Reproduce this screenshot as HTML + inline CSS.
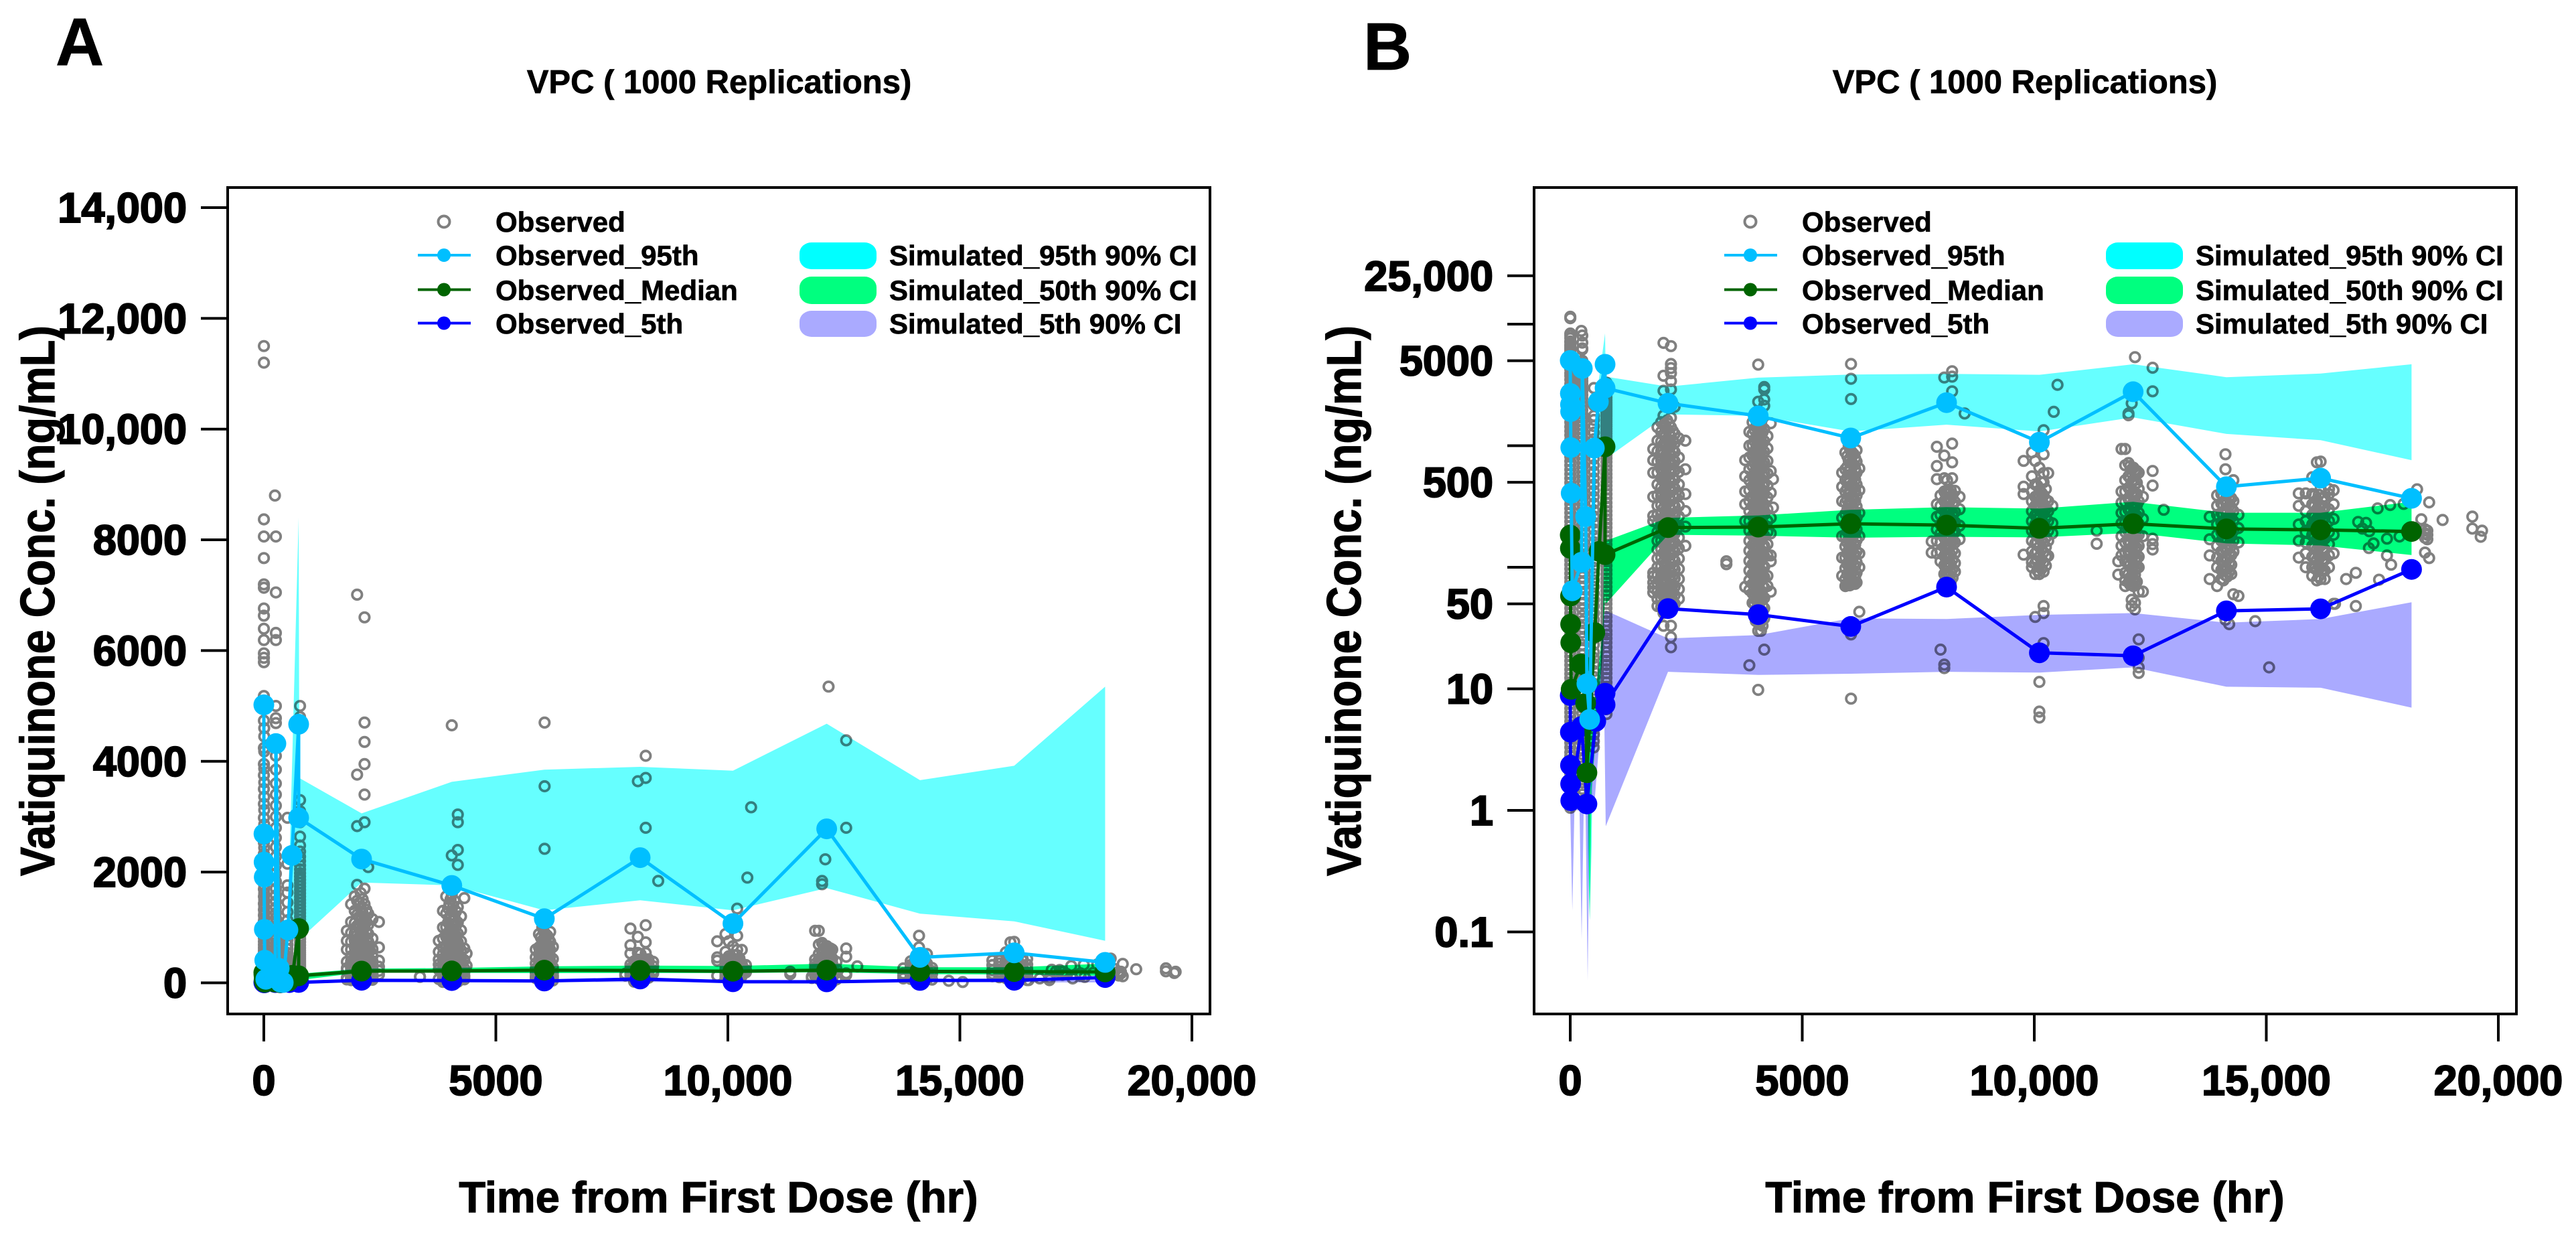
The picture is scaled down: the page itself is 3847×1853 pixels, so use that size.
<!DOCTYPE html>
<html lang="en">
<head>
<meta charset="utf-8">
<title>VPC panels</title>
<style>
html,body{margin:0;padding:0;background:#fff;width:3847px;height:1853px;overflow:hidden}
svg{display:block}
text{font-family:"Liberation Sans",sans-serif;font-weight:bold;fill:#000;stroke:#000;stroke-width:.7px}
text.tick{stroke-width:2px}
text.axis{stroke-width:1.2px}
</style>
</head>
<body>
<svg id="figure" xmlns="http://www.w3.org/2000/svg" width="3847" height="1853" viewBox="0 0 3847 1853">
<rect x="0" y="0" width="3847" height="1853" fill="#fff"/>
<text x="83" y="97" font-size="100">A</text>
<text x="2036" y="104" font-size="100">B</text>
<text x="1074" y="139" font-size="49" text-anchor="middle">VPC ( 1000 Replications)</text>
<text x="3024" y="139" font-size="49" text-anchor="middle">VPC ( 1000 Replications)</text>
<text class="axis" transform="translate(81,897) rotate(-90)" font-size="72" text-anchor="middle" textLength="822" lengthAdjust="spacingAndGlyphs">Vatiquinone Conc. (ng/mL)</text>
<text class="axis" transform="translate(2032,897) rotate(-90)" font-size="72" text-anchor="middle" textLength="822" lengthAdjust="spacingAndGlyphs">Vatiquinone Conc. (ng/mL)</text>
<text class="axis" x="1073" y="1810" font-size="65" text-anchor="middle">Time from First Dose (hr)</text>
<text class="axis" x="3024" y="1810" font-size="65" text-anchor="middle">Time from First Dose (hr)</text>
</svg>
<script>
// ---- axis tick data ----
const xTickValues = [0, 5000, 10000, 15000, 20000];
const xTickLabels = ['0', '5000', '10,000', '15,000', '20,000'];
const yLinearTickValues = [0, 2000, 4000, 6000, 8000, 10000, 12000, 14000];
const yLinearTickLabels = ['0', '2000', '4000', '6000', '8000', '10,000', '12,000', '14,000'];
const yLogTickValues = [0.1, 1, 10, 50, 100, 500, 1000, 5000, 10000, 25000];
const yLogTickLabels = ['0.1', '1', '10', '50', '', '500', '', '5000', '', '25,000'];

// ---- observed percentile series ----
const hours95 = [0,3,6,9,12,20,43,245,260,332,360,418,520,606,750,750,2107,4050,6045,8110,10110,12130,14140,16170,18130];
const observed95 = [5020,2690,2180,1910,965,407,64,110,4320,261,11,5.6,955,2300,4670,2980,2235,1758,1157,2260,1070,2780,460,541,369];
const hoursMedian = [0,3,6,9,12,20,230,332,360,530,620,750,750,2107,4050,6045,8110,10110,12130,14140,16170,18130];
const observedMedian = [184,143,58,34,24,9.9,16,7.6,2.04,29,135,980,127,212,214,228,222,209,228,207,203,197];
const hours5 = [0,3,6,9,12,245,360,550,750,750,2107,4050,6045,8110,10110,12130,14140,16170,18130];
const observed5 = [8.8,4.4,2.35,1.65,1.2,4.9,1.13,5.4,9.2,7.4,45.7,40.8,32.6,68.7,19.8,18.7,43.8,45.5,96];

// ---- simulated confidence bands ----
const hoursSim95 = [380,420,460,560,750,765,2107,4050,6045,8110,10110,12130,14140,16170,18130];
const sim95UpperLinear = [1,1,1,2400,8400,3700,3060,3630,3850,3900,3830,4680,3660,3920,5350];
const sim95UpperLog = [1,1,1,2400,8400,3700,3060,3630,3850,3900,3830,4680,3660,3920,4680];
const sim95Lower = [0.5,0.125,0.5,1100,900,780,1810,1760,1310,1490,1310,1710,1250,1110,760];
const hoursSim50 = [380,420,460,700,750,765,2107,4050,6045,8110,10110,12130,14140,16170,18130];
const sim50Upper = [3,4,5,30,400,165,255,267,297,312,304,346,281,281,346];
const sim50Lower = [1.5,0.125,1.5,20,60,50,185,182,175,178,176,192,157,151,126];
const hoursSim5 = [0,45,90,200,245,290,330,375,420,510,725,765,2107,4050,6045,8110,10110,12130,14140,16170,18130];
const sim5Upper = [1.2,1.2,1.2,1.2,1.2,1.2,1.2,1.2,1.2,3,40,44,26,27.7,38,37.5,40.6,42,35,37.5,51.6];
const sim5Lower = [1,0.15,1,1,0.087,1,1,0.04,1,1,11,0.74,13.8,13,13.3,13.8,13.6,15,10.4,10.2,7];

// ---- observed concentrations, grouped by hour (obsConc[i] belongs to obsHours[i]) ----
const obsHours = [2,8,240,260,780,510,
1790,1880,1960,2010,2090,2170,2250,2340,2480,
3365,3770,3860,3930,4000,4050,4110,4180,4250,4320,4370,
5860,5930,6000,6050,6110,6170,6230,
7790,7900,7980,8060,8120,8200,8230,8290,8390,8500,
9770,9950,10020,10110,10200,10300,10390,10420,10500,11345,11810,
11880,11960,12030,12100,12170,12250,12340,12550,12790,
13780,13940,14030,14120,14200,14290,14400,14760,15060,
15700,15850,15990,16090,16170,16260,16350,16450,
16480,16720,16930,16980,17070,17150,17220,17210,17310,17400,17430,17600,17690,17670,17870,17960,
18250,18340,18420,18470,18510,18800,19440,19620,19650,
2050,2130,2210,2060,2140,
3970,4025,4080,4145,4030,4100,
5970,6025,6080,6140,
8085,8160,8240,
10065,10155,10250,
12065,12135,12210,
14075,14160,14245,
16040,16130,16215];
const obsConc = [
/*2*/[11500,11200,8370,8060,7670,7195,7135,6760,6630,6395,6190,5950,5870,5790,5180,4735,4240,3950,3750,3500,3230,2980,2750,2530,2330,2150,1980,1830,1690,1560,1430,1320,1220,1120,1035,955,880,810,745,690,635,585,540,497,458,422,389,358,330,304,280,258,238,219,202,186,172,158,146,134,124,114,105,97,89,82,76,70,64,59,54,50,46,42,39,36,33,30.5,28,26,24,22,20,18.5,17,15.7,14.4,13.3,12.3,11.3,10.4,9.6,8.8,8.1,7.5,6.9,6.4,5.9,5.4,5,4.6,4.2,3.9,3.6,3.3,3,2.8,2.6,2.4,2.2,2,1.85,1.7,1.57,1.45,1.33,1.22,1.12,1.05],
/*8*/[5000,4600,4450,4180,3870,3620,3360,3120,2860,2640,2440,2240,2060,1900,1760,1620,1500,1380,1270,1170,1075,990,915,845],
/*240*/[8800],
/*260*/[8060,7050,6320,6190,5000,4780,4690,4350,4100,3850,3600,3400,3200,3000,2800,2620,2450,2280,2120,1970,1830,1700,1580,1470,1360,1260,1170,1080,1000,925,850,785,720,660,610,560,510,470,430,395,360,330,300,270,245,225,205,185,168,152,138,125,113,102,92,83,75,68,61,55,50,45,40,36,32,29,26,23,21,19,17,15,13.5,12,10.8,9.7,8.7,7.8,7,6.3,5.6,5,4.5,4,3.6,3.2,2.9,2.6,2.3,2.1,1.9,1.7,1.5,1.35,1.2,1.1],
/*780*/[5000,4800,3300,3100,2900,2640,2480,2370,2280,2200,2120,2050,1980,1920,1860,1800,1740,1680,1620,1560,1500,1440,1380,1320,1260,1200,1140,1080,1020,960,900,840,790,735,680,630,585,545,505,470,435,400,370,340,315,290,268,248,229,212,196,181,167,154,142,131,121,112,103,95,88,81,75,69,64,59,54,50,46,42,39,36,33,30,28,26,24,22,20,18.5,17,15.7,14.5,13.4,12.3,11.3,10.4,9.6,8.8,8.1,7.4,6.8,6.2],
/*510*/[2980,2150,1760,1630,1450,1280,1130,1000,880,780,690,610,540,480,425,380,335,295,262,232,205,182,161,143,127,112,99,88,78,69,61,54,48,42,37,33,29,26,23,20,18,16,14,12.5,11,9.8,8.7,7.7,6.8,6,5.3,4.7,4.2,3.7,3.3],
/*1790*/[940,760,600,380,265,240,90,84,75,68,62],
/*1880*/[1420,1100,900,740,600,480,390,320,270,230,195,165,140,118,100,86,74,63,55,48],
/*1960*/[1560,1300,1080,900,760,640,540,455,385,325,275,232,196,166,141,120,102,87,74,64,55,47],
/*2010*/[7010,3760,2830,1770,1480,1230,1030,860,720,605,510,430,362,305,257,217,183,155,131,111,94,80,68,58,50,42,33],
/*2090*/[1620,1350,1130,950,800,670,565,475,400,337,284,240,202,170,144,122,103,88,75,64,55,47],
/*2170*/[6600,4700,4350,3950,3400,2900,1700,1420,1190,1000,840,705,595,500,420,354,298,251,212,178,150,127,107,91,77,66,56,48,33,26.6,22],
/*2250*/[2090,1250,1050,885,745,628,528,445,375,316,266,224,189,159,134,113,96,81,69,59,50],
/*2340*/[1150,800,610,480,390,320,262,215,175,143,118,97,80,66,55],
/*2480*/[1100,640,400,290,216,150],
/*3365*/[112,106],
/*3770*/[760,560,420,330,240,69],
/*3860*/[1300,1000,800,640,520,430,350,290,240,200,165,137,113,94,78,65,15.6],
/*3930*/[1560,1250,1010,830,680,560,465,385,320,265,220,183,152,127,106,88,73,61,51],
/*4000*/[1430,1150,940,770,630,515,425,350,290,240,198,164,136,113,94,78,65,54,45,36],
/*4050*/[4650,2300,1600,1290,1050,860,705,580,478,394,325,268,221,182,150,124,102,85,70,58,48,40,30,9.8],
/*4110*/[1480,1190,970,795,650,535,440,362,298,245,202,167,138,114,94,78,64,53,44,36,30],
/*4180*/[3040,2900,2400,2130,1370,1090,890,730,600,490,402,330,271,222,182,150,123,101,83,68,56,46,38,21],
/*4250*/[1200,950,750,590,470,375,300,240,195,155,125,85,70],
/*4320*/[1530,620,410,255,190,125,112,63],
/*4370*/[530,310],
/*5860*/[600,460,350,255,180,120,85],
/*5930*/[880,640,520,420,340,275,225,180,148,120,98,80,70],
/*6000*/[1000,760,610,490,395,320,258,208,170,138,112,92,76,33.5],
/*6050*/[4700,3550,2420,900,720,580,470,380,307,248,200,163,132,108,88,72,28,8.3],
/*6110*/[850,690,555,450,365,295,238,193,157,127,104,85,74],
/*6170*/[920,740,600,480,390,316,255,205,167,135,110,90,75],
/*6230*/[650,430,280,180,130,100,43],
/*7790*/[163,132],
/*7900*/[980,680,530,330,260,205,165,130],
/*7980*/[390,320,270,225,190,160,135,112,21],
/*8060*/[3640,830,540,420,350,295,248,208,175,147,124,104,88,75,15.8,14.8],
/*8120*/[520,400,335,280,235,198,166,140,118,99,83,72,66],
/*8200*/[430,360,300,252,212,178,150,126,106,90,76],
/*8230*/[4100,3700,2800,1040,730,540],
/*8290*/[425,345,285,235,195,160,130,108,92],
/*8390*/[380,300,220,170],
/*8500*/[1840],
/*9770*/[750,460,400,127],
/*9950*/[880,560,420,350,290,240,200,165,135,110,100],
/*10020*/[750,480,380,320,268,225,188,157,130,108,88,39],
/*10110*/[660,430,350,295,250,208,175,147,122,102,88,11.4,6.5,5.8],
/*10200*/[1340,850,595,500,390,330,275,230,192,160,133,110,92,48,42,23.8],
/*10300*/[595,350,290,240,200,165,124],
/*10390*/[320,230,190],
/*10420*/[1900],
/*10500*/[3170],
/*11345*/[200,156],
/*11810*/[112,87],
/*11880*/[940,420,340,280,230,180,150,125],
/*11960*/[940,690,520,420,345,285,235,195,160,133,112,90,78,70],
/*12030*/[1840,1780,720,560,450,365,298,243,198,162,133,110,88,75],
/*12100*/[2230,640,500,400,325,265,215,176,144,118,97,84,72,54,48],
/*12170*/[5350,630,480,390,318,258,210,172,140,115,95,87,74,51,45],
/*12250*/[600,440,350,280,228,185,150,122,100,63,25.5,18,15,13.5],
/*12340*/[380,250,180,63],
/*12550*/[4380,2800,620,470,172,155,140],
/*12790*/[297],
/*13780*/[260,170,125,80],
/*13940*/[390,320,270,225,185,150,120,100,70],
/*14030*/[400,335,280,235,195,165,135,113,95,80],
/*14120*/[850,640,420,350,295,245,205,170,142,118,98,86,37],
/*14200*/[380,320,265,220,185,155,130,108,92,34],
/*14290*/[520,350,290,240,200,165,135,134,60],
/*14400*/[270,210,160,58],
/*14760*/[36],
/*15060*/[15],
/*15700*/[405,320,225,165,120],
/*15850*/[405,350,290,240,195,160,130,100],
/*15990*/[550,400,330,270,225,185,150,122,100,85],
/*16090*/[730,360,300,250,205,170,140,115,95,78],
/*16170*/[740,555,440,320,265,220,180,150,122,100,80],
/*16260*/[380,310,255,210,172,140,115,94,80],
/*16350*/[440,400,300,240,195,155,125,100],
/*16450*/[430,330,250,185,130,50],
/*16480*/[50],
/*16720*/[80],
/*16930*/[90,48],
/*16980*/[236],
/*17070*/[208],
/*17150*/[232],
/*17220*/[198],
/*17210*/[144],
/*17310*/[157],
/*17400*/[305],
/*17430*/[79],
/*17600*/[172,125],
/*17690*/[105],
/*17670*/[325],
/*17870*/[179],
/*17960*/[332],
/*18250*/[438],
/*18340*/[248],
/*18420*/[205,190,175,132],
/*18470*/[200,185,170],
/*18510*/[342,119],
/*18800*/[245],
/*19440*/[261,208],
/*19620*/[178],
/*19650*/[200],
/*2050*/[1440,1190,985,820,690,580,490,410,345,292,246,207,175,148,125,106,90,76,65,55,49],
/*2130*/[1510,1260,1050,880,735,615,520,438,368,310,261,220,186,157,133,113,96,82,70,60,52],
/*2210*/[1320,1100,920,770,650,545,460,388,327,275,232,195,165,140,118,100,85,72,62,53],
/*2060*/[1050,760,552,392,268,192,138,100,73,53],
/*2140*/[965,700,505,358,245,177,127,92,67,50],
/*3970*/[1350,1090,880,720,590,485,400,330,272,225,186,154,128,106,88,73,60,50,42],
/*4025*/[1510,1220,990,810,665,545,450,372,307,253,209,173,143,118,98,81,67,55,46,38],
/*4080*/[1390,1120,915,750,615,505,417,344,284,234,193,160,132,109,90,75,62,51,42,34],
/*4145*/[1290,1040,850,700,575,472,388,320,264,218,180,149,124,103,85,70,58,48,40,33],
/*4030*/[1180,770,500,330,215,140,92,60,41],
/*4100*/[1050,680,440,290,190,126,83,56,37],
/*5970*/[820,670,545,445,360,295,240,196,160,130,106,87,72],
/*6025*/[950,785,640,520,425,345,282,230,187,152,124,101,82,71],
/*6080*/[875,715,580,475,385,313,255,208,170,138,113,92,76],
/*6140*/[790,645,525,430,350,285,232,189,154,126,103,84,73],
/*8085*/[405,340,285,240,202,170,143,120,101,85,70],
/*8160*/[415,350,292,245,206,173,146,122,103,87,72],
/*8240*/[395,330,278,232,195,164,138,116,97,82],
/*10065*/[470,385,325,272,228,190,160,134,112,94],
/*10155*/[500,410,340,285,238,198,166,139,116,97],
/*10250*/[440,360,300,252,212,176,147,123,103],
/*12065*/[680,540,430,350,285,232,190,156,128,105,82,72],
/*12135*/[660,525,420,340,278,226,185,152,125,103,80,70],
/*12210*/[620,495,400,325,265,216,176,144,118,98,76],
/*14075*/[390,325,272,228,190,160,133,112,94,78],
/*14160*/[400,340,285,238,198,166,138,116,97,84],
/*14245*/[370,310,258,216,180,150,126,105,88],
/*16040*/[390,320,262,215,178,146,120,98],
/*16130*/[395,325,268,220,182,150,124,102,84],
/*16215*/[375,305,252,208,170,140,116,96]
];

// ---- legend text ----
const legendObservedLabels = ['Observed', 'Observed_95th', 'Observed_Median', 'Observed_5th'];
const legendSimLabels = ['Simulated_95th 90% CI', 'Simulated_50th 90% CI', 'Simulated_5th 90% CI'];

// ---- axis functions ----
const SVG_NS = 'http://www.w3.org/2000/svg';
function xAxis(hours) { return 394 + 0.0693 * hours; }
function yLinear(conc) { return 1467.5 - 0.08268 * conc; }
function yLog(conc) { return 1210 - 181.5 * Math.log10(conc); }

function make(tag, parent, props) {
  const node = document.createElementNS(SVG_NS, tag);
  for (const k in props) node.setAttribute(k, props[k]);
  parent.appendChild(node);
  return node;
}

function drawBand(parent, hours, upper, lower, fill, yFn, name) {
  const pts = [];
  hours.forEach(function (h, i) { pts.push(xAxis(h).toFixed(1) + ',' + yFn(upper[i]).toFixed(1)); });
  for (let i = hours.length - 1; i >= 0; i--) pts.push(xAxis(hours[i]).toFixed(1) + ',' + yFn(lower[i]).toFixed(1));
  const el = make('polygon', parent, { points: pts.join(' '), fill: fill, style: 'mix-blend-mode:multiply' });
  
  
}

function drawSeries(parent, hours, values, color, yFn, name) {
  const pts = hours.map(function (h, i) { return xAxis(h).toFixed(1) + ',' + yFn(values[i]).toFixed(1); });
  const line = make('polyline', parent, { points: pts.join(' '), fill: 'none', stroke: color, 'stroke-width': 5, 'stroke-linejoin': 'round' });
  
  
  hours.forEach(function (h, i) {
    const dot = make('circle', parent, { cx: xAxis(h).toFixed(1), cy: yFn(values[i]).toFixed(1), r: 15.5, fill: color });
    
    
  });
}

function drawLegend(parent) {
  const obsRowY = [331, 381, 432.5, 482.5];
  const textY = [346, 396, 448, 498];
  const colors = ['#808080', '#00bfff', '#006400', '#0000ff'];
  legendObservedLabels.forEach(function (label, i) {
    if (i === 0) {
      const ring = make('circle', parent, { cx: 663, cy: obsRowY[i], r: 8.5, fill: 'none', stroke: colors[i], 'stroke-width': 4 });
      
      
    } else {
      const seg = make('line', parent, { x1: 624, x2: 703, y1: obsRowY[i], y2: obsRowY[i], stroke: colors[i], 'stroke-width': 4 });
      
      
      const dot = make('circle', parent, { cx: 663, cy: obsRowY[i], r: 10, fill: colors[i] });
      
      
    }
    const t = make('text', parent, { x: 740, y: textY[i], 'font-size': 42 });
    t.textContent = label;
    
    
  });
  const swatchTop = [362, 413, 464];
  const swatchHeight = [40, 41, 39];
  const swatchFill = ['#00ffff', '#00ff7f', '#aaaaff'];
  legendSimLabels.forEach(function (label, i) {
    const sw = make('rect', parent, { x: 1194, y: swatchTop[i], width: 115, height: swatchHeight[i], rx: 18, ry: 16, fill: swatchFill[i] });
    
    
    const t = make('text', parent, { x: 1328, y: textY[i + 1], 'font-size': 42 });
    t.textContent = label;
    
    
  });
}

function drawPanel(svg, panelName, dx, yFn, yVals, yLabels, upper95) {
  const g = make('g', svg, { transform: 'translate(' + dx + ',0)' });
  
  

  const plotBg = make('rect', g, { x: 340, y: 280, width: 1467, height: 1234, fill: '#fff' });
  
  

  obsHours.forEach(function (h, i) {
    obsConc[i].forEach(function (c) {
      const p = make('circle', g, { cx: xAxis(h).toFixed(1), cy: yFn(c).toFixed(1), r: 7.2, fill: 'none', stroke: '#808080', 'stroke-width': 3.8 });
      
      
    });
  });

  drawBand(g, hoursSim95, upper95, sim95Lower, '#66ffff', yFn, 'simulated-95th-band');
  drawBand(g, hoursSim50, sim50Upper, sim50Lower, '#00ff7f', yFn, 'simulated-50th-band');
  drawBand(g, hoursSim5, sim5Upper, sim5Lower, '#aaaaff', yFn, 'simulated-5th-band');

  drawSeries(g, hours5, observed5, '#0000ff', yFn, 'observed-5th');
  drawSeries(g, hoursMedian, observedMedian, '#006400', yFn, 'observed-median');
  drawSeries(g, hours95, observed95, '#00bfff', yFn, 'observed-95th');

  const box = make('rect', g, { x: 340, y: 280, width: 1467, height: 1234, fill: 'none', stroke: '#000', 'stroke-width': 4 });
  
  

  xTickValues.forEach(function (v, i) {
    const tick = make('line', g, { x1: xAxis(v), x2: xAxis(v), y1: 1514, y2: 1555, stroke: '#000', 'stroke-width': 4 });
    
    
    const t = make('text', g, { x: xAxis(v), y: 1635, 'font-size': 63, 'text-anchor': 'middle', 'class': 'tick' });
    t.textContent = xTickLabels[i];
    
    
  });

  yVals.forEach(function (v, i) {
    const tick = make('line', g, { x1: 300, x2: 340, y1: yFn(v), y2: yFn(v), stroke: '#000', 'stroke-width': 4 });
    
    
    if (yLabels[i]) {
      const t = make('text', g, { x: 279, y: yFn(v) + 22, 'font-size': 63, 'text-anchor': 'end', 'class': 'tick' });
      t.textContent = yLabels[i];
      
      
    }
  });

  drawLegend(g);
}

const root = document.getElementById('figure');
drawPanel(root, 'panel-a-linear', 0, yLinear, yLinearTickValues, yLinearTickLabels, sim95UpperLinear);
drawPanel(root, 'panel-b-log', 1951, yLog, yLogTickValues, yLogTickLabels, sim95UpperLog);
</script>
</body>
</html>
